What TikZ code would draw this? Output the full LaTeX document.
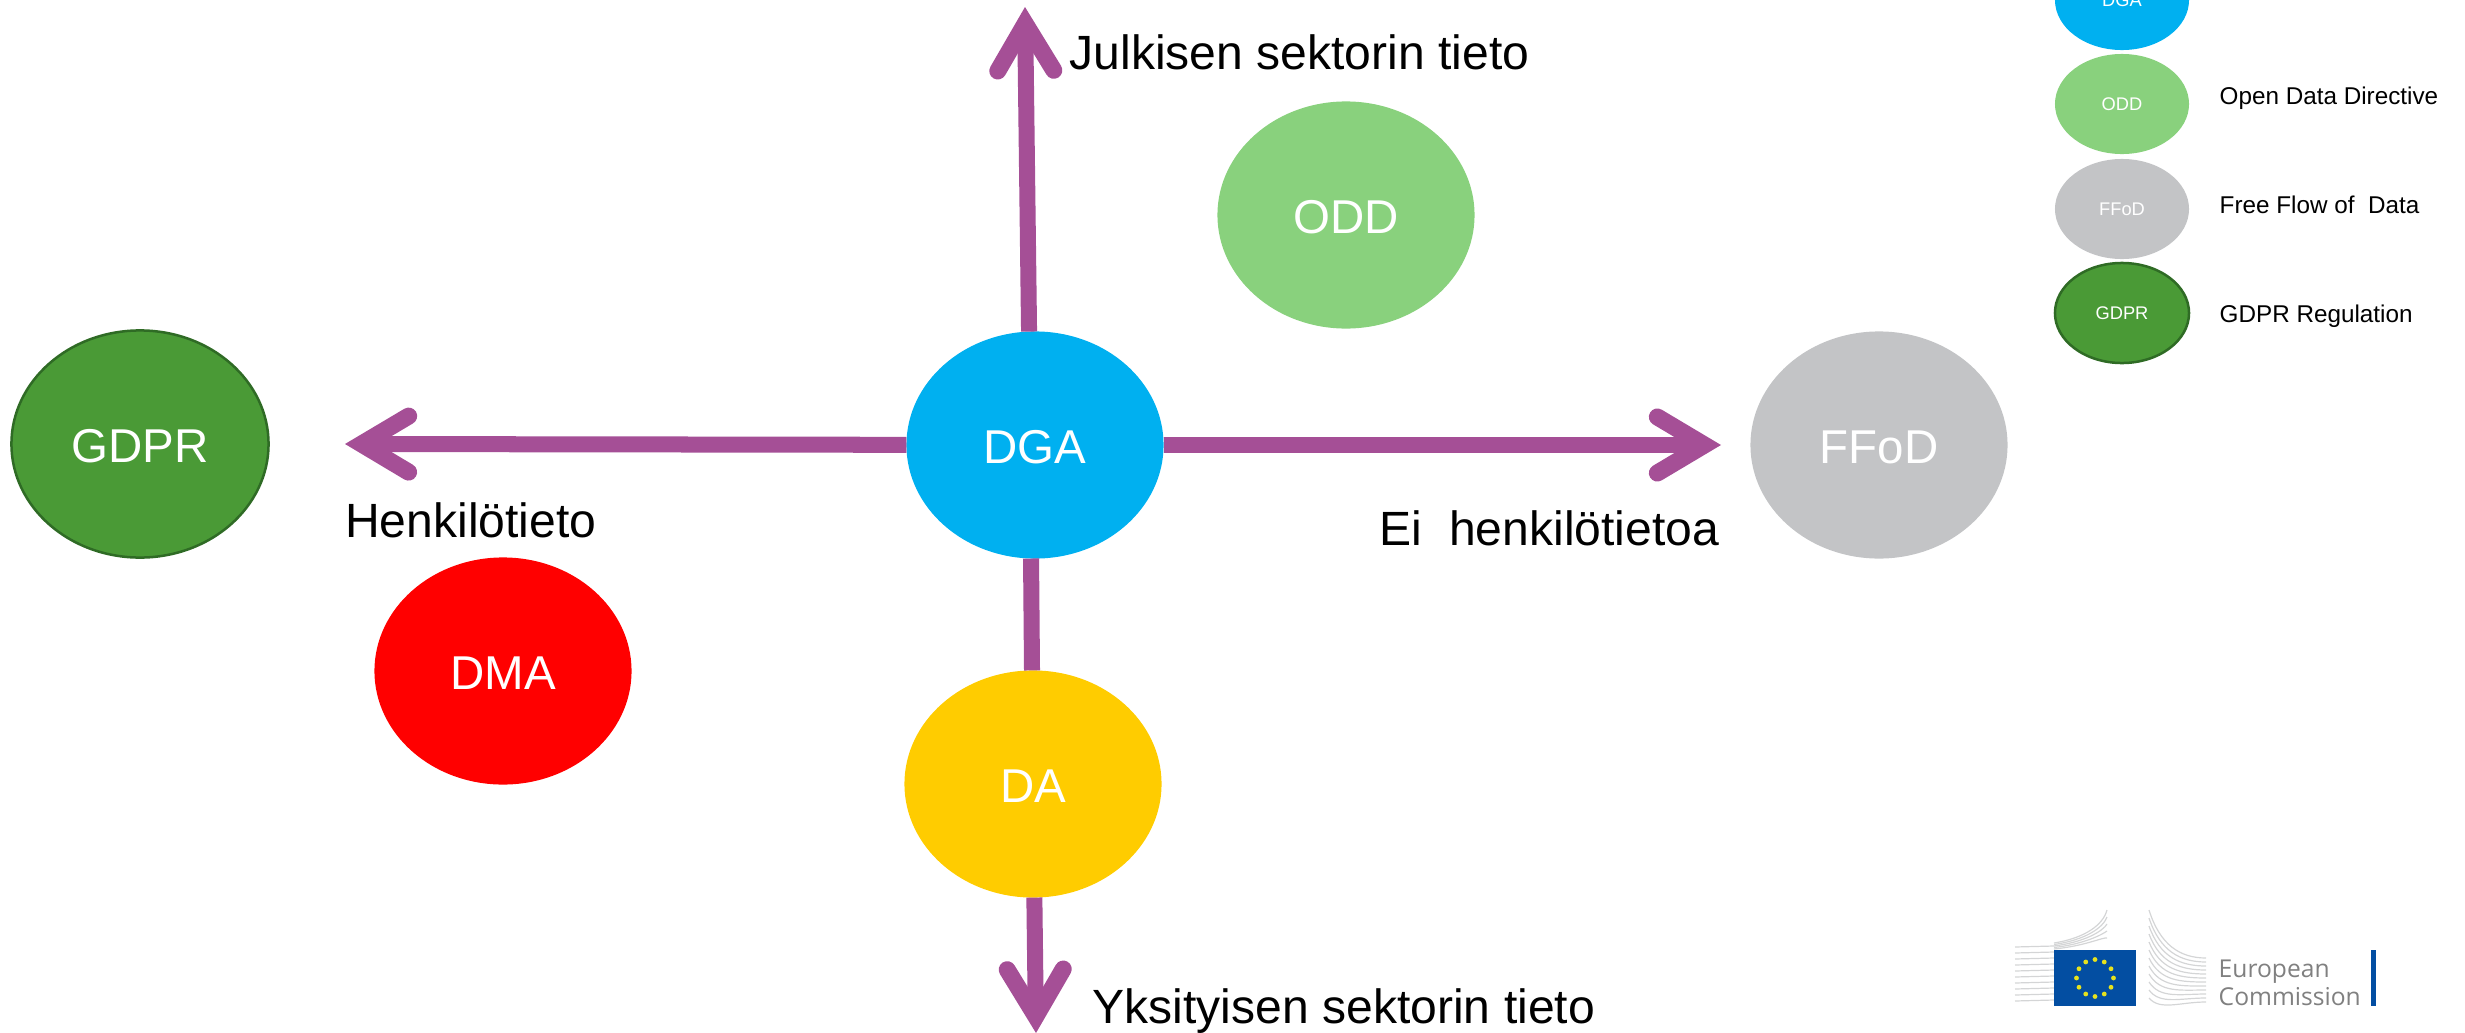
\documentclass[tikz,border=0pt]{standalone}
\usepackage{fontspec}
\setmainfont{Liberation Sans}
\newfontfamily\logofont{Open Sans}
\usepackage{tikz}
\usetikzlibrary{arrows.meta, shapes.geometric, calc}
\definecolor{dga_fill}{HTML}{00B0F0}
\definecolor{odd_fill}{HTML}{89D17D}
\definecolor{ffod_fill}{HTML}{C3C4C6}
\definecolor{gdpr_fill}{HTML}{4A9A36}
\definecolor{gdpr_line}{HTML}{2F6B25}
\definecolor{dma_fill}{HTML}{FF0000}
\definecolor{da_fill}{HTML}{FFCC00}
\definecolor{axis_col}{HTML}{A54F96}
\definecolor{eu_blue}{HTML}{034EA2}
\definecolor{eu_star}{HTML}{E6E21E}
\definecolor{logo_grey}{HTML}{D4D5D6}

\begin{document}
\begin{tikzpicture}[
    x=0.01cm, y=-0.01cm,
    % ellissi grandi e piccole
    big_oval/.style = {
        ellipse,
        minimum width=2.57cm,
        minimum height=2.27cm,
        inner sep=0,
        outer sep=0,
        text=white,
        text height=0.37cm,
        font=\fontsize{13.5pt}{16pt}\selectfont
    },
    small_oval/.style = {
        ellipse,
        minimum width=1.34cm,
        minimum height=1.0cm,
        inner sep=0,
        outer sep=0,
        text=white,
        font=\fontsize{5.2pt}{6pt}\selectfont
    },
    axis_arrow/.style = {
        draw=axis_col,
        line width=0.16cm,
        -{Straight Barb[length=0.47cm, width=0.56cm, line width=0.17cm, line cap=round, line join=miter]}
    },
    axis_line/.style = {
        draw=axis_col,
        line width=0.16cm
    },
    axis_label/.style = {
        anchor=base west,
        inner sep=0,
        font=\fontsize{13.67pt}{16pt}\selectfont
    },
    legend_label/.style = {
        anchor=base west,
        inner sep=0,
        font=\fontsize{6.9pt}{9pt}\selectfont
    },
    logo_line/.style = {
        draw=logo_grey,
        line width=0.012cm
    }
]
\useasboundingbox (0,0) rectangle (2465,1033);
\clip (0,0) rectangle (2465,1033);

% 1. Ellissi principali
\node[big_oval, fill=dga_fill] (dga) at (1035,445) {DGA};
\node[big_oval, fill=odd_fill] (odd) at (1346,215) {ODD};
\node[big_oval, fill=gdpr_fill, draw=gdpr_line, line width=0.025cm] (gdpr) at (140,444) {GDPR};
\node[big_oval, fill=ffod_fill] (ffod) at (1879,445) {FFoD};
\node[big_oval, fill=dma_fill] (dma) at (503,671) {DMA};
\node[big_oval, fill=da_fill] (da) at (1033,784) {DA};

% 2. Estremi delle frecce
\coordinate (top_end) at (1025,7);
\coordinate (left_end) at (345,444);
\coordinate (right_end) at (1721,445);
\coordinate (bottom_end) at (1036,1033);

% 3. Frecce
\draw[axis_arrow] (dga.93) -- (top_end);
\draw[axis_arrow] (dga) -- (left_end);
\draw[axis_arrow] (dga) -- (right_end);
\draw[axis_line] (dga.-92.5) -- (da);
\draw[axis_arrow] (da) -- (bottom_end);

% 4. Etichette degli assi
\node[axis_label] (label_top) at (1069,69) {Julkisen sektorin tieto};
\node[axis_label] (label_left) at (344.5,537) {Henkilötieto};
\node[axis_label] (label_right) at (1379,545) {Ei\ \ henkilötietoa};
\node[axis_label] (label_bottom) at (1092,1023) {Yksityisen sektorin tieto};

% 5. Legenda
\node[small_oval, fill=dga_fill] (leg_dga) at (2122,0) {DGA};
\node[small_oval, fill=odd_fill] (leg_odd) at (2122,104) {ODD};
\node[small_oval, fill=ffod_fill] (leg_ffod) at (2122,209) {FFoD};
\node[small_oval, fill=gdpr_fill, draw=gdpr_line, line width=0.025cm] (leg_gdpr) at (2122,313) {GDPR};
\node[legend_label] (txt_odd) at (2219,104) {Open Data Directive};
\node[legend_label] (txt_ffod) at (2219,213) {Free Flow of\ \ Data};
\node[legend_label] (txt_gdpr) at (2219,322) {GDPR Regulation};

% 6. Logo
\foreach \yy in {947,953,...,1005} {
    \draw[logo_line] (2015,\yy) -- (2054,\yy-1);
}
\foreach \yy in {0,1,...,4} {
    \draw[logo_line] (2054,943+\yy*1.5) .. controls (2085,938+\yy*2) and (2103,925+\yy*3) .. (2107,910+\yy*7);
}
\fill[eu_blue] (2054,950) rectangle (2136,1006);
\foreach \aa in {0,30,...,330} {
    \fill[eu_star] ($(2095,978)+(\aa:18.5)$) circle (2.4);
}
\foreach \yy in {0,1,...,11} {
    \draw[logo_line] (2149,910+\yy*8) .. controls (2160,945+\yy*6) and (2180,958+\yy*4) .. (2206,958+\yy*4);
}
\node[anchor=base west, inner sep=0, text=gray, font=\logofont\fontsize{7pt}{8pt}\selectfont] (logo_eu) at (2218,977) {European};
\node[anchor=base west, inner sep=0, text=gray, font=\logofont\fontsize{7pt}{8pt}\selectfont] (logo_com) at (2218,1005) {Commission};
\fill[eu_blue] (2371,950) rectangle (2376,1006);

\end{tikzpicture}
\end{document}
